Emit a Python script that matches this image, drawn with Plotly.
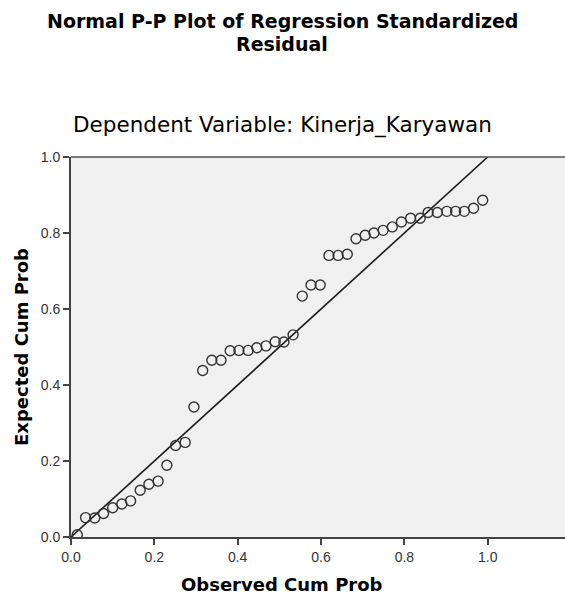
import plotly.graph_objects as go

observed = [0.015, 0.035, 0.057, 0.078, 0.100, 0.122, 0.143, 0.166, 0.187, 0.209,
            0.230, 0.251, 0.274, 0.295, 0.316, 0.338, 0.360, 0.382, 0.403, 0.425,
            0.446, 0.468, 0.490, 0.511, 0.533, 0.555, 0.576, 0.598, 0.619, 0.641,
            0.663, 0.684, 0.706, 0.727, 0.749, 0.771, 0.793, 0.815, 0.838, 0.857,
            0.879, 0.902, 0.923, 0.944, 0.966, 0.988]
expected = [0.006, 0.051, 0.050, 0.062, 0.077, 0.087, 0.095, 0.123, 0.139, 0.147,
            0.189, 0.241, 0.249, 0.342, 0.438, 0.465, 0.465, 0.490, 0.491, 0.491,
            0.498, 0.503, 0.514, 0.513, 0.532, 0.634, 0.663, 0.663, 0.741, 0.741,
            0.744, 0.785, 0.794, 0.800, 0.807, 0.816, 0.829, 0.839, 0.839, 0.854,
            0.854, 0.857, 0.857, 0.857, 0.865, 0.886]
ref_line = [0.0, 1.0]
tick_vals = [0.0, 0.2, 0.4, 0.6, 0.8, 1.0]
tick_text = ["0.0", "0.2", "0.4", "0.6", "0.8", "1.0"]

title_lines = ["Normal P-P Plot of Regression Standardized", "Residual"]
subtitle_text = "Dependent Variable: Kinerja_Karyawan"
x_title = "Observed Cum Prob"
y_title = "Expected Cum Prob"

W, H = 565, 594
ML, MR, MT, MB = 71, 0, 157, 57
pw = W - ML - MR
ph = H - MT - MB


def py(pix):
    return (H - MB - pix) / ph


def px(pix):
    return (pix - ML) / pw


fig = go.Figure()
fig.add_trace(go.Scatter(x=ref_line, y=ref_line, mode="lines",
                         line=dict(color="#1a1a1a", width=1.6),
                         hoverinfo="skip", showlegend=False))
fig.add_trace(go.Scatter(x=observed, y=expected, mode="markers",
                         marker=dict(symbol="circle-open", size=10,
                                     color="#333333", line=dict(width=1.4, color="#333333")),
                         showlegend=False))

axis_font = dict(family="Liberation Sans, Arial, sans-serif", size=14, color="#333333")
fig.update_xaxes(range=[0, pw / 416.7], tickvals=tick_vals, ticktext=tick_text,
                 showgrid=False, zeroline=False, showline=True, linecolor="#444444",
                 linewidth=2, ticks="outside", ticklen=6, tickwidth=2, tickcolor="#444444",
                 tickfont=axis_font)
fig.update_yaxes(range=[0, 1], tickvals=tick_vals, ticktext=tick_text,
                 showgrid=False, zeroline=False, showline=True, linecolor="#444444",
                 linewidth=2, ticks="outside", ticklen=6, tickwidth=2, tickcolor="#444444",
                 tickfont=axis_font)

fig.add_shape(type="line", xref="paper", yref="paper", x0=0, x1=1, y0=1, y1=1,
              line=dict(color="#555555", width=1.5))

cx = px(282)
title_font = dict(family="DejaVu Sans, sans-serif", size=19,
                  color="#000000", weight="bold")
for text, ypix in zip(title_lines, [21, 44]):
    fig.add_annotation(text=text, xref="paper", yref="paper", x=cx, y=py(ypix),
                       showarrow=False, xanchor="center", yanchor="middle",
                       font=title_font)

bold_font = dict(family="DejaVu Sans, sans-serif", size=18, color="#000000", weight="bold")
fig.add_annotation(text=subtitle_text, xref="paper", yref="paper",
                   x=cx, y=py(125), showarrow=False,
                   xanchor="center", yanchor="middle",
                   font=dict(family="DejaVu Sans, sans-serif", size=21.5, color="#000000"))
fig.add_annotation(text=x_title, xref="paper", yref="paper",
                   x=cx, y=py(584), showarrow=False,
                   xanchor="center", yanchor="middle", font=bold_font)
fig.add_annotation(text=y_title, xref="paper", yref="paper",
                   x=px(21), y=0.5, showarrow=False, textangle=-90,
                   xanchor="center", yanchor="middle", font=bold_font)

fig.update_layout(
    width=W, height=H,
    margin=dict(l=ML, r=MR, t=MT, b=MB),
    paper_bgcolor="white", plot_bgcolor="#F0F0F0",
)

fig.write_html("out.html", config={"displayModeBar": False},
               post_script="document.body.style.margin='0';document.body.style.padding='0';"
                           "document.body.style.overflow='hidden';")
